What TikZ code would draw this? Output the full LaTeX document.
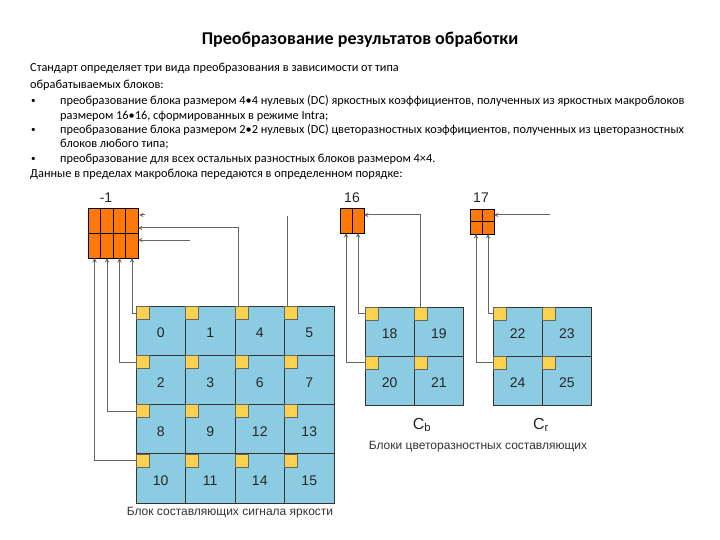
\documentclass[tikz,border=0pt]{standalone}
\usepackage{fontspec}
\setmainfont{Carlito}
\newfontfamily\arialf{Liberation Sans}
\begin{document}
\begin{tikzpicture}[x=1pt,y=-1pt,
  cell/.style={draw=black!80,line width=0.9pt,fill=cellblue},
  ycell/.style={fill=yel,draw=black!60,line width=0.4pt},
  oblk/.style={draw=black,line width=0.9pt,fill=orng},
  conn/.style={draw=black!60,line width=1pt},
  arr/.style={conn,-stealth},
  num/.style={font=\arialf\fontsize{14}{14}\selectfont,text=black!85},
  body/.style={font=\fontsize{12.3}{13}\selectfont,anchor=west,inner sep=0pt},
  captxt/.style={font=\arialf\fontsize{12}{13}\selectfont,text=black!80}]
\definecolor{cellblue}{RGB}{140,204,226}
\definecolor{yel}{RGB}{250,210,80}
\definecolor{orng}{RGB}{255,120,10}
\useasboundingbox (0,0) rectangle (720,540);
\node[font=\bfseries\fontsize{18}{20}\selectfont] (title) at (360,40) {Преобразование результатов обработки};
\node[body] (t1) at (30,68) {Стандарт определяет три вида преобразования в зависимости от типа};
\node[body] (t2) at (30,85) {обрабатываемых блоков:};
\node[body,font=\fontsize{9}{9}\selectfont] (b1) at (31,101) {•};
\node[body] (t3) at (60,101) {преобразование блока размером 4•4 нулевых (DC) яркостных коэффициентов, полученных из яркостных макроблоков};
\node[body] (t4) at (60,116) {размером 16•16, сформированных в режиме Intra;};
\node[body,font=\fontsize{9}{9}\selectfont] (b2) at (31,130) {•};
\node[body] (t5) at (60,130) {преобразование блока размером 2•2 нулевых (DC) цветоразностных коэффициентов, полученных из цветоразностных};
\node[body] (t6) at (60,144) {блоков любого типа;};
\node[body,font=\fontsize{9}{9}\selectfont] (b3) at (31,159) {•};
\node[body] (t7) at (60,159) {преобразование для всех остальных разностных блоков размером 4×4.};
\node[body] (t8) at (30,174) {Данные в пределах макроблока передаются в определенном порядке:};
% luma grid
\foreach \r/\labs in {0/{0,1,4,5},1/{2,3,6,7},2/{8,9,12,13},3/{10,11,14,15}}{
  \foreach \l [count=\c from 0] in \labs {
    \path[cell] (136+49.5*\c,306+49.25*\r) rectangle ++(49.5,49.25);
    \path[ycell] (136+49.5*\c,306+49.25*\r) rectangle ++(13,13);
    \node[num] (L\l) at (136+49.5*\c+24.75,306+49.25*\r+27) {\l};
  }}
% chroma
\foreach \bx/\labs in {365/{18,19,20,21},493/{22,23,24,25}}{
  \foreach \l [count=\i from 0] in \labs {
    \pgfmathtruncatemacro{\c}{mod(\i,2)}\pgfmathtruncatemacro{\r}{int(\i/2)}
    \path[cell] (\bx+49.3*\c,307+49*\r) rectangle ++(49.3,49);
    \path[ycell] (\bx+49.3*\c,307+49*\r) rectangle ++(13,13);
    \node[num] (C\l) at (\bx+49.3*\c+24.6,307+49*\r+27) {\l};
  }}
% orange blocks
\foreach \c in {0,1,2,3}{\foreach \r in {0,1}{\path[oblk] (88+12.5*\c,208+25*\r) rectangle ++(12.5,25);}}
\node[num] (m1) at (106,198) {-1};
\foreach \c in {0,1}{\path[oblk] (340+12*\c,208) rectangle ++(12,25);}
\node[num] (s16) at (352,198) {16};
\foreach \c in {0,1}{\foreach \r in {0,1}{\path[oblk] (470+12*\c,209+12.5*\r) rectangle ++(12,12.5);}}
\node[num] (s17) at (481,198) {17};
% captions
\node[num,font=\arialf\fontsize{16}{16}\selectfont] (cb) at (422,425) {C\textsubscript{b}};
\node[num,font=\arialf\fontsize{16}{16}\selectfont] (cr) at (541,425) {C\textsubscript{r}};
\node[captxt] (capc) at (478,447) {Блоки цветоразностных составляющих};
\node[captxt] (capl) at (230,513) {Блок составляющих сигнала яркости};
% connectors luma
\coordinate (a0) at (136,313); \coordinate (a2) at (136,362);
\coordinate (a8) at (136,411); \coordinate (a10) at (136,460);
\draw[arr] (a0) -| (132,258);
\draw[arr] (a2) -| (119.5,258);
\draw[arr] (a8) -| (107,258);
\draw[arr] (a10) -| (94.5,258);
\coordinate (y4) at (238,306); \coordinate (y5) at (287,306);
\draw[arr] (y4) |- (138,228);
\coordinate (f1) at (190,240);
\draw[arr] (f1) -- (138,240);
\coordinate (f2) at (145,215);
\draw[arr] (f2) -- (139,215);
\draw[conn] (y5) -- (287,216);
% chroma connectors
\draw[arr] (365,313) -| (358,233);
\draw[arr] (365,362) -| (346,233);
\draw[arr] (420,307) |- (364,215);
\draw[arr] (493,313) -| (488,234);
\draw[arr] (493,362) -| (476,234);
\coordinate (f3) at (550,215);
\draw[arr] (f3) -- (494,215);
\end{tikzpicture}
\end{document}
